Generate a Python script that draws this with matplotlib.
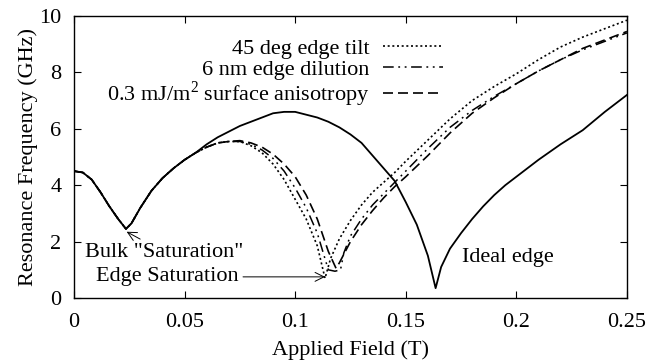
import numpy as np
import matplotlib
matplotlib.use("Agg")
import matplotlib.pyplot as plt

plt.rcParams["font.family"] = "Liberation Serif"
plt.rcParams["mathtext.fontset"] = "custom"
plt.rcParams["mathtext.rm"] = "Liberation Serif"

# shared low-field branch (all four models agree here)
low_field = [0.0, 0.004, 0.008, 0.012, 0.016, 0.02, 0.0235, 0.026, 0.03, 0.035,
             0.04, 0.045, 0.05, 0.055]
low_freq = [4.5, 4.45, 4.2, 3.75, 3.25, 2.8, 2.45, 2.65, 3.2, 3.8,
            4.25, 4.6, 4.9, 5.15]

# ideal edge
ideal_field = [0.06, 0.065, 0.07, 0.075, 0.08, 0.085, 0.09, 0.095, 0.1, 0.105,
               0.11, 0.115, 0.12, 0.125, 0.13, 0.135, 0.14, 0.145, 0.15, 0.155,
               0.16, 0.1635, 0.166, 0.17, 0.175, 0.18, 0.185, 0.19, 0.195, 0.2,
               0.21, 0.22, 0.23, 0.24, 0.25]
ideal_freq = [5.45, 5.7, 5.9, 6.1, 6.25, 6.4, 6.55, 6.6, 6.6, 6.5,
              6.4, 6.25, 6.05, 5.8, 5.5, 5.05, 4.6, 4.15, 3.4, 2.6,
              1.5, 0.35, 1.1, 1.75, 2.3, 2.8, 3.25, 3.65, 4.0, 4.3,
              4.9, 5.45, 5.95, 6.6, 7.2]

# 45 deg edge tilt
tilt_field = [0.06, 0.065, 0.07, 0.075, 0.08, 0.085, 0.09, 0.095, 0.1, 0.105,
              0.11, 0.1135, 0.116, 0.12, 0.125, 0.13, 0.135, 0.14, 0.145, 0.15,
              0.16, 0.17, 0.18, 0.19, 0.2, 0.21, 0.22, 0.23, 0.24, 0.25]
tilt_freq = [5.35, 5.5, 5.55, 5.55, 5.4, 5.15, 4.75, 4.2, 3.5, 2.8,
             1.85, 0.7, 1.4, 2.1, 2.75, 3.3, 3.75, 4.1, 4.45, 4.85,
             5.6, 6.35, 7.0, 7.5, 7.95, 8.45, 8.9, 9.25, 9.55, 9.85]

# 6 nm edge dilution
dil_field = [0.06, 0.065, 0.07, 0.075, 0.08, 0.085, 0.09, 0.095, 0.1, 0.105,
             0.11, 0.115, 0.118, 0.1205, 0.122, 0.125, 0.13, 0.135, 0.14, 0.145,
             0.15, 0.16, 0.17, 0.18, 0.19, 0.2, 0.21, 0.22, 0.23, 0.24, 0.25]
dil_freq = [5.35, 5.5, 5.55, 5.55, 5.45, 5.25, 4.95, 4.5, 3.9, 3.2,
            2.3, 1.0, 0.95, 1.0, 1.6, 2.2, 2.8, 3.3, 3.7, 4.1,
            4.5, 5.3, 6.05, 6.65, 7.15, 7.6, 8.05, 8.45, 8.8, 9.1, 9.4]

# 0.3 mJ/m^2 surface anisotropy
aniso_field = [0.06, 0.065, 0.07, 0.075, 0.08, 0.085, 0.09, 0.095, 0.1, 0.105,
               0.11, 0.115, 0.1185, 0.12, 0.125, 0.13, 0.135, 0.14, 0.145, 0.15,
               0.16, 0.17, 0.18, 0.19, 0.2, 0.21, 0.22, 0.23, 0.24, 0.25]
aniso_freq = [5.35, 5.5, 5.55, 5.58, 5.5, 5.35, 5.1, 4.75, 4.3, 3.65,
              2.8, 1.65, 1.05, 1.25, 2.0, 2.6, 3.1, 3.55, 3.95, 4.3,
              5.05, 5.85, 6.55, 7.1, 7.6, 8.05, 8.45, 8.85, 9.15, 9.45]

fs = 16

fig = plt.figure(figsize=(6.49, 3.63), dpi=100)
ax = fig.add_axes([0.114, 0.179, 0.852, 0.777])

ax.plot(low_field + tilt_field, low_freq + tilt_freq, color="black", lw=1.2,
        ls=(0, (1.2, 1.6)), label="45 deg edge tilt")
ax.plot(low_field + dil_field, low_freq + dil_freq, color="black", lw=1.1,
        ls=(0, (7, 3, 1.2, 3, 1.2, 3)), label="6 nm edge dilution")
ax.plot(low_field + aniso_field, low_freq + aniso_freq, color="black", lw=1.2,
        ls=(0, (6, 3)), label="0.3 mJ/m$^2$ surface anisotropy")
ax.plot(low_field + ideal_field, low_freq + ideal_freq, color="black", lw=1.3)

ax.set_xlim(0, 0.25)
ax.set_ylim(0, 10)
ax.set_xticks([0, 0.05, 0.1, 0.15, 0.2, 0.25])
ax.set_xticklabels(["0", "0.05", "0.1", "0.15", "0.2", "0.25"])
ax.set_yticks([0, 2, 4, 6, 8, 10])
ax.tick_params(direction="in", length=5, width=0.8, top=True, right=True,
               labelsize=fs)
ax.tick_params(axis="x", pad=11)
ax.tick_params(axis="y", pad=9)
for s in ax.spines.values():
    s.set_linewidth(1.0)

ax.set_xlabel("Applied Field (T)", fontsize=fs, labelpad=6)
ax.set_ylabel("Resonance Frequency (GHz)", fontsize=fs, labelpad=1)

ax.legend(loc="upper right", bbox_to_anchor=(0.667, 0.92), frameon=False,
          markerfirst=False, fontsize=fs, handlelength=2.7,
          handletextpad=0.6, labelspacing=0.0, borderpad=0, borderaxespad=0)

arrow = dict(arrowstyle="->", color="black", lw=0.7, shrinkA=1, shrinkB=0)
ax.annotate('Bulk "Saturation"', xy=(0.0238, 2.35), xytext=(0.0407, 1.63),
            ha="center", va="center", fontsize=fs, arrowprops=arrow)
ax.annotate("Edge Saturation", xy=(0.1135, 0.75), xytext=(0.0423, 0.75),
            ha="center", va="center", fontsize=fs, arrowprops=arrow)
ax.text(0.196, 1.45, "Ideal edge", ha="center", va="center", fontsize=fs)

fig.savefig("out.png", dpi=100)
